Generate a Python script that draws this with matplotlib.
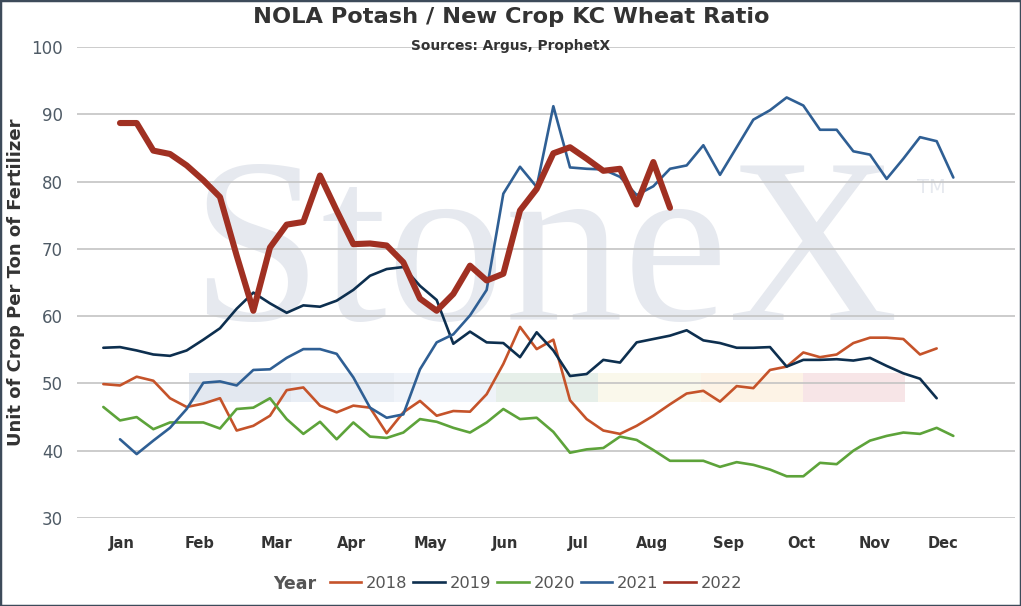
import numpy as np
import matplotlib.pyplot as plt
from matplotlib.patches import Rectangle
from matplotlib.lines import Line2D

# Dane: tygodnie i wartosci (jednostki zboza za tone nawozu)
start_2018 = 2
vals_2018 = [49.9, 49.7, 51.0, 50.4, 47.8, 46.5, 47.0, 47.8, 43.0, 43.7, 45.2, 49.0, 49.4,
             46.7, 45.7, 46.7, 46.4, 42.6, 45.7, 47.4, 45.2, 45.9, 45.8, 48.4, 52.9, 58.4,
             55.1, 56.5, 47.5, 44.7, 43.0, 42.5, 43.7, 45.2, 46.9, 48.5, 48.9, 47.3, 49.6,
             49.3, 52.0, 52.5, 54.6, 53.9, 54.3, 56.0, 56.8, 56.8, 56.6, 54.3, 55.2]
start_2019 = 2
vals_2019 = [55.3, 55.4, 54.9, 54.3, 54.1, 54.9, 56.5, 58.2, 61.1, 63.5, 61.9, 60.5, 61.6,
             61.4, 62.3, 63.9, 66.0, 67.0, 67.3, 64.5, 62.4, 55.9, 57.7, 56.1, 56.0, 53.9,
             57.6, 54.9, 51.1, 51.4, 53.5, 53.1, 56.1, 56.6, 57.1, 57.9, 56.4, 56.0, 55.3,
             55.3, 55.4, 52.5, 53.5, 53.5, 53.6, 53.4, 53.8, 52.6, 51.5, 50.7, 47.8]
start_2020 = 2
vals_2020 = [46.5, 44.5, 45.0, 43.2, 44.2, 44.2, 44.2, 43.3, 46.2, 46.4, 47.8, 44.7, 42.5,
             44.3, 41.7, 44.2, 42.1, 41.9, 42.7, 44.7, 44.3, 43.4, 42.7, 44.2, 46.2, 44.7,
             44.9, 42.8, 39.7, 40.2, 40.4, 42.1, 41.6, 40.1, 38.5, 38.5, 38.5, 37.6, 38.3,
             37.9, 37.2, 36.2, 36.2, 38.2, 38.0, 40.0, 41.5, 42.2, 42.7, 42.5, 43.4, 42.2]
start_2021 = 3
vals_2021 = [41.7, 39.5, 41.5, 43.4, 46.2, 50.1, 50.3, 49.7, 52.0, 52.1, 53.8, 55.1, 55.1,
             54.4, 50.9, 46.4, 44.9, 45.4, 52.1, 56.1, 57.3, 60.1, 63.9, 78.2, 82.2, 79.2,
             91.2, 82.1, 81.9, 81.8, 80.7, 78.0, 79.3, 81.9, 82.4, 85.4, 81.0, 85.1, 89.2,
             90.6, 92.5, 91.3, 87.7, 87.7, 84.5, 84.0, 80.4, 83.4, 86.6, 86.0, 80.6]
start_2022 = 3
vals_2022 = [88.7, 88.7, 84.6, 84.1, 82.4, 80.2, 77.7, 69.0, 60.8, 70.2, 73.6, 74.0, 80.9,
             75.7, 70.7, 70.8, 70.5, 68.0, 62.6, 60.8, 63.3, 67.5, 65.3, 66.3, 75.7, 78.9,
             84.2, 85.1, 83.4, 81.6, 81.9, 76.6, 82.9, 76.1]

months = ['Jan', 'Feb', 'Mar', 'Apr', 'May', 'Jun', 'Jul', 'Aug', 'Sep', 'Oct', 'Nov', 'Dec']
month_pos = [3.13, 7.76, 12.4, 16.9, 21.6, 26.1, 30.5, 34.9, 39.5, 43.9, 48.3, 52.4]

series = [
    ('2018', start_2018, vals_2018, '#c5532a', 1.9),
    ('2019', start_2019, vals_2019, '#0d2f4f', 1.9),
    ('2020', start_2020, vals_2020, '#5da33a', 1.9),
    ('2021', start_2021, vals_2021, '#2f5f94', 1.9),
    ('2022', start_2022, vals_2022, '#a03022', 4.4),
]

W, H = 1021, 606
fig = plt.figure(figsize=(W / 100, H / 100), dpi=100)
fig.patch.set_facecolor('white')

# obszar wykresu w pikselach
L, R, T, B = 77, 1015, 47, 518
ax = fig.add_axes([L / W, 1 - B / H, (R - L) / W, (B - T) / H])

def fx(px):
    return (px - L) / (R - L)

def fy(py):
    return (B - py) / (B - T)

# znak wodny StoneX
ax.text(fx(190), fy(320), 'StoneX', transform=ax.transAxes, fontsize=170,
        family='Liberation Serif', color='#e6e9ef', ha='left', va='baseline', zorder=0.1)
ax.text(fx(917), fy(193), 'TM', transform=ax.transAxes, fontsize=14,
        color='#e6e9ef', ha='left', va='baseline', zorder=0.1)
band_cols = ['#e3e8f0', '#e9eef5', '#eff3f9', '#e6efe9', '#faf8eb', '#fdf3e6', '#f7e5e7']
for i, c in enumerate(band_cols):
    x0 = 189 + i * 102.3
    ax.add_patch(Rectangle((fx(x0), fy(402)), fx(x0 + 102.3) - fx(x0), fy(373) - fy(402),
                           transform=ax.transAxes, facecolor=c, edgecolor='none', zorder=0.1))

for name, start, vals, col, lw in series:
    wk = np.arange(start, start + len(vals))
    ax.plot(wk, vals, color=col, lw=lw, solid_joinstyle='round', solid_capstyle='round',
            zorder=3 if name != '2022' else 4)

ax.set_xlim(0.42, 56.7)
ax.set_ylim(30, 100)
ax.set_yticks(range(30, 101, 10))
ax.grid(axis='y', color='#c4c4c4', lw=1.2)
ax.set_axisbelow(True)
for s in ax.spines.values():
    s.set_visible(False)
ax.tick_params(axis='y', length=0, pad=10, labelsize=12, labelcolor='#4f5b66')
ax.set_xticks(month_pos)
ax.set_xticklabels(months, fontsize=10.5, fontweight='bold', color='#333333')
ax.tick_params(axis='x', length=0, pad=13)

ax.set_ylabel('Unit of Crop Per Ton of Fertilizer', fontsize=13, fontweight='bold',
              color='#333333')
ax.yaxis.label.set_va('center')
ax.yaxis.set_label_coords(fx(16), fy(282))

fig.text(511 / W, 1 - 17 / H, 'NOLA Potash / New Crop KC Wheat Ratio', ha='center', va='center',
         fontsize=16.2, fontweight='bold', color='#333333')
fig.text(511 / W, 1 - 46 / H, 'Sources: Argus, ProphetX', ha='center', va='center',
         fontsize=9.9, fontweight='bold', color='#333333')

# legenda
handles = [Line2D([], [], color=c, lw=1.9) for _, _, _, c, _ in series]
labels = [n for n, _, _, _, _ in series]
fig.text(316 / W, 1 - 584 / H, 'Year', ha='right', va='center', fontsize=12.5,
         fontweight='bold', color='#555555')
fig.legend(handles, labels, loc='center', bbox_to_anchor=(536 / W, 1 - 583 / H), ncol=5,
           frameon=False, fontsize=11.7, labelcolor='#555555', handlelength=1.95,
           handletextpad=0.3, columnspacing=0.35)

# ramka
fig.add_artist(Rectangle((0, 0), 1, 1, transform=fig.transFigure, fill=False,
                         edgecolor='#3d4b5a', lw=2.5))

fig.savefig('out.png', dpi=100)
